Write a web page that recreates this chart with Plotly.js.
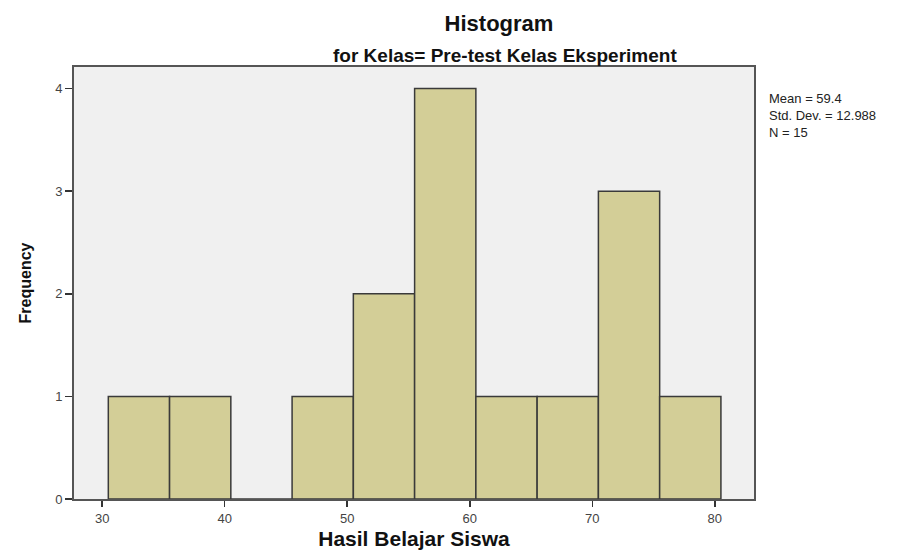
<!DOCTYPE html>
<html>
<head>
<meta charset="utf-8">
<script src="https://cdn.plot.ly/plotly-3.0.1.min.js"></script>
<style>html,body{margin:0;padding:0;background:#fff;}#chart{width:919px;height:552px;}</style>
</head>
<body>
<div id="chart"></div>
<script>
// Histogram bins (width 5) and their frequencies
var binCenters = [33, 38, 43, 48, 53, 58, 63, 68, 73, 78];
var frequencies = [1, 1, 0, 1, 2, 4, 1, 1, 3, 1];
var binWidth = 5;
var xTicks = [30, 40, 50, 60, 70, 80];
var yTicks = [0, 1, 2, 3, 4];
var statsLines = ['Mean = 59.4', 'Std. Dev. = 12.988', 'N = 15'];

var font = '"Liberation Sans", Arial, sans-serif';

var trace = {
  type: 'bar',
  x: binCenters,
  y: frequencies,
  width: binCenters.map(function(){ return binWidth; }),
  marker: {color: '#D3CE97', line: {color: '#3a3a3a', width: 1.5}},
  hoverinfo: 'x+y',
  showlegend: false
};

var layout = {
  width: 919, height: 552,
  paper_bgcolor: '#ffffff',
  plot_bgcolor: '#f0f0f0',
  margin: {l: 74, r: 165, t: 67, b: 53},
  bargap: 0,
  title: {
    text: '<b>Histogram</b>',
    xref: 'container', yref: 'container',
    x: 499 / 919, xanchor: 'center',
    y: 1 - 23 / 552, yanchor: 'middle',
    font: {family: font, size: 22, color: '#111'}
  },
  xaxis: {
    range: [27.7, 83.2],
    tickvals: xTicks,
    ticktext: xTicks.map(String),
    ticks: 'outside', ticklen: 6, tickwidth: 1.5, tickcolor: '#333',
    showline: true, mirror: true, linecolor: '#555', linewidth: 2,
    showgrid: false, zeroline: false,
    tickfont: {family: font, size: 13, color: '#444'},
    title: {text: '<b>Hasil Belajar Siswa</b>', standoff: 7, font: {family: font, size: 21, color: '#111'}}
  },
  yaxis: {
    range: [0, 4.21],
    tickvals: yTicks,
    ticktext: yTicks.map(String),
    ticks: 'outside', ticklen: 7, tickwidth: 1.5, tickcolor: '#333',
    showline: true, mirror: true, linecolor: '#555', linewidth: 2,
    showgrid: false, zeroline: false,
    tickfont: {family: font, size: 13, color: '#444'},
    title: {text: '<b>Frequency</b>', standoff: 20, font: {family: font, size: 16, color: '#111'}}
  },
  annotations: [
    {
      text: '<b>for Kelas= Pre-test Kelas Eksperiment</b>',
      xref: 'paper', yref: 'paper',
      x: (505 - 74) / 680, y: (499 - 55) / 432,
      xanchor: 'center', yanchor: 'middle', showarrow: false,
      font: {family: font, size: 19, color: '#111'}
    },
    {
      text: statsLines.join('<br>'),
      xref: 'paper', yref: 'paper',
      x: (767 - 74) / 680, y: (499 - 89) / 432,
      xanchor: 'left', yanchor: 'top', align: 'left', showarrow: false,
      font: {family: font, size: 13, color: '#222'}
    }
  ]
};

Plotly.newPlot('chart', [trace], layout, {displayModeBar: false, staticPlot: true});
</script>
</body>
</html>
